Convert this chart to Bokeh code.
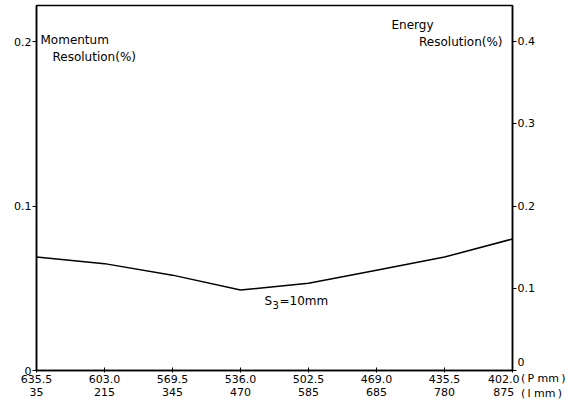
from bokeh.plotting import figure
from bokeh.models import Range1d, LinearAxis, FixedTicker, Label
from bokeh.embed import file_html
from bokeh.resources import INLINE

# Data
p_mm = ["635.5", "603.0", "569.5", "536.0", "502.5", "469.0", "435.5", "402.0"]
l_mm = ["35", "215", "345", "470", "585", "685", "780", "875"]
momentum_res = [0.069, 0.065, 0.058, 0.049, 0.053, 0.061, 0.069, 0.080]
left_ticks = [0, 0.1, 0.2]
right_ticks = [0, 0.1, 0.2, 0.3, 0.4]
unit_labels = ["(\u2009P mm\u2009)", "(\u2009l mm\u2009)"]

FONT = "DejaVu Sans"
TOP = 0.222
NB = "\u00a0"
idx = list(range(len(p_mm)))

p = figure(width=569, height=401, output_backend="svg", toolbar_location=None,
           x_range=Range1d(0, 7), y_range=Range1d(0, TOP),
           min_border_left=36, min_border_right=57, min_border_top=5, min_border_bottom=20)
p.extra_y_ranges = {"right": Range1d(0, 2 * TOP)}
p.grid.visible = False
p.outline_line_color = "black"
p.outline_line_width = 1.5

p.line(idx, momentum_res, line_color="black", line_width=1.5)

def style_axis(ax, tin, tout):
    ax.minor_tick_line_color = None
    ax.major_tick_in = tin
    ax.major_tick_out = tout
    ax.major_label_standoff = 1
    ax.major_label_text_font = FONT
    ax.major_label_text_font_size = "11px"
    ax.major_label_text_color = "black"
    ax.axis_line_width = 1.5

# x axis
xa = p.xaxis[0]
xa.ticker = FixedTicker(ticks=idx)
xlab = {i: f"{a}\n{b}" for i, (a, b) in enumerate(zip(p_mm, l_mm))}
last = len(p_mm) - 1
xlab[last] = f"{p_mm[last]}{NB * 5}\n{l_mm[last]}{NB * 5}"
xa.major_label_overrides = xlab
style_axis(xa, 3, 2)
xa.major_label_standoff = 0
xa.major_label_text_line_height = 1.0

# left axis
ya = p.yaxis[0]
ya.ticker = FixedTicker(ticks=left_ticks)
ya.major_label_overrides = {t: ("0" if t == 0 else f"{t:.1f}") for t in left_ticks}
style_axis(ya, 0, 4)

# right axis (zero label carries the x unit captions below it)
ra = LinearAxis(y_range_name="right", ticker=FixedTicker(ticks=right_ticks))
ovr = {t: f"{t:.1f}" for t in right_ticks if t != 0}
ovr[0] = "\n0\n" + "\n".join(NB + u for u in unit_labels)
ra.major_label_overrides = ovr
style_axis(ra, 0, 4)
ra.major_label_text_line_height = 1.2
p.add_layout(ra, "right")

def lab(x, y, t, align="left", base="alphabetic", xo=0, yo=0, size="12px"):
    p.add_layout(Label(x=x, y=y, text=t, text_align=align, text_baseline=base,
                       x_offset=xo, y_offset=yo, text_font=FONT, text_font_size=size,
                       text_color="black"))

lab(0, TOP, "Momentum", xo=4, yo=-34)
lab(0, TOP, "Resolution(%)", xo=16, yo=-51)
lab(7, TOP, "Energy", align="right", xo=-79, yo=-19)
lab(7, TOP, "Resolution(%)", align="right", xo=-10, yo=-36)

lab(3, 0.049, "S", xo=24, yo=-11)
lab(3, 0.049, "3", xo=32, yo=-15, size="10px")
lab(3, 0.049, "=10mm", xo=39, yo=-11)

open("out.html", "w").write(file_html(p, INLINE))
